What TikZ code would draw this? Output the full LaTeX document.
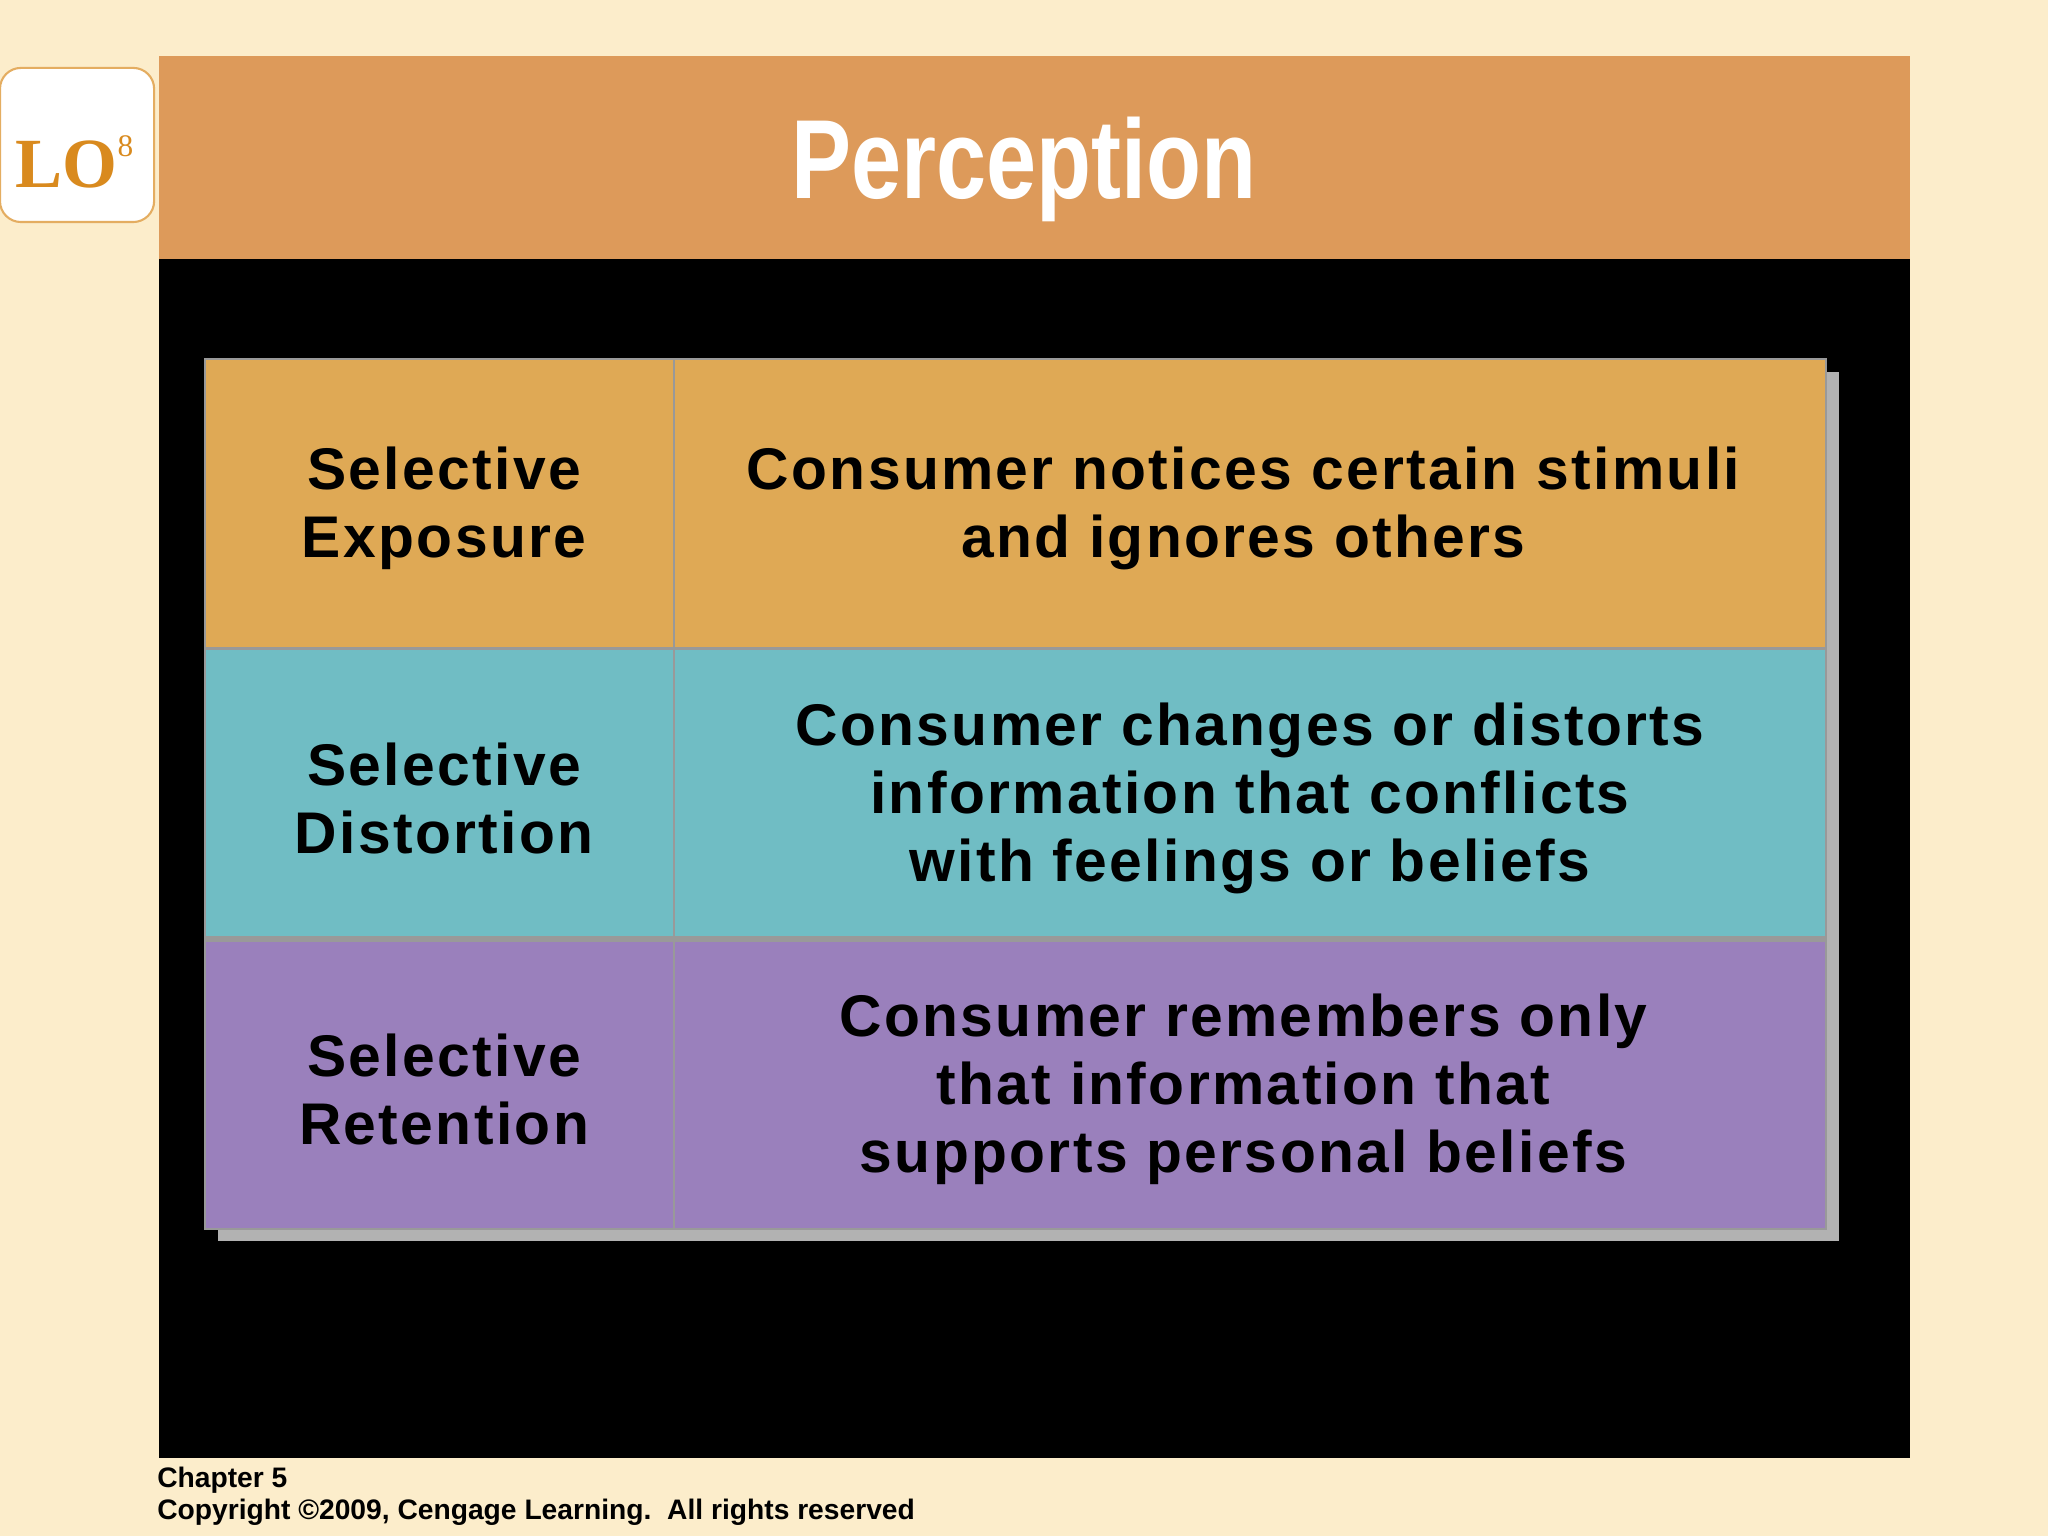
\documentclass[tikz,border=0pt]{standalone}
\usepackage{fontspec}
\setmainfont{Liberation Sans}
\newfontfamily\serifont{Liberation Serif}
\newfontfamily\widefont[LetterSpace=4]{Liberation Sans}
\begin{document}
\begin{tikzpicture}[x=0.5pt,y=-0.5pt]
\definecolor{cream}{HTML}{FCEDCB}
\definecolor{hdr}{HTML}{DD9A5A}
\definecolor{cor}{HTML}{DFA955}
\definecolor{cte}{HTML}{70BDC4}
\definecolor{cpu}{HTML}{9A80BC}
\definecolor{lo}{HTML}{D98A1E}
\tikzset{cell/.style={draw=gray!80,line width=1pt},
 txt/.style={font=\widefont\fontsize{22.5}{26}\selectfont\bfseries,align=center,text=black}}
\useasboundingbox (0,0) rectangle (1568,1176);
\fill[cream] (0,0) rectangle (1568,1176);
\fill[hdr] (122,43) rectangle (1462,198);
\fill[black] (122,198) rectangle (1462,1116);
\node[draw=lo!70,fill=white,rounded corners=8pt,line width=0.8pt,minimum width=59pt,minimum height=59pt] (lo) at (59,111) {};
\node[text=lo,font=\serifont\bfseries\fontsize{27}{27}\selectfont] at (57,124) {LO\raisebox{0.45em}{\fontsize{12}{12}\selectfont\mdseries 8}};
\node[text=white,font=\bfseries\fontsize{41}{41}\selectfont] (title) at (784,130) {\scalebox{0.84}[1.05]{Perception}};
\fill[gray!60] (167,285) rectangle (1408,950);
\foreach \y/\c in {275/cor,497/cte,720/cpu}{
 \draw[cell,fill=\c] (157,\y) rectangle (516,\y+221);
 \draw[cell,fill=\c] (516,\y) rectangle (1398,\y+221);
}
\node[txt] (a1) at (340,389) {Selective\\Exposure};
\node[txt] (b1) at (952,389) {Consumer notices certain stimuli\\and ignores others};
\node[txt] (a2) at (340,611) {Selective\\Distortion};
\node[txt] (b2) at (957,611) {Consumer changes or distorts\\information that conflicts\\with feelings or beliefs};
\node[txt] (a3) at (340,834) {Selective\\Retention};
\node[txt] (b3) at (952,834) {Consumer remembers only\\that information that\\supports personal beliefs};
\node[anchor=north west,inner sep=0pt,align=left,font=\bfseries\fontsize{10.8}{12}\selectfont] (ft) at (120,1123) {Chapter 5\\Copyright \textcopyright2009, Cengage Learning.\ \ All rights reserved};
\end{tikzpicture}
\end{document}
